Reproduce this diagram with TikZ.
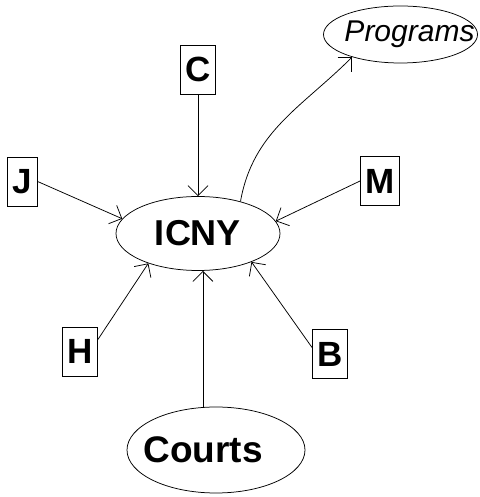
\documentclass[tikz,border=0pt]{standalone}
\usepackage{fontspec}
\setmainfont{Liberation Sans}
\usetikzlibrary{arrows.meta,shapes.geometric}
\tikzset{
  box/.style={draw, line width=0.75bp, rectangle, minimum height=49bp, inner xsep=5bp, inner ysep=0pt,
    font=\fontsize{35bp}{35bp}\selectfont\bfseries},
  bigell/.style={draw, line width=0.75bp, ellipse, inner sep=0pt,
    font=\fontsize{36bp}{36bp}\selectfont\bfseries},
  arr/.style={line width=0.75bp, -{Straight Barb[length=10bp,width=20bp,line width=0.75bp]}}
}
\begin{document}
\begin{tikzpicture}[x=1bp,y=1bp]
\useasboundingbox (0,0) rectangle (480,497);
\node[bigell, minimum width=164bp, minimum height=74bp] (ICNY) at (198,263.5) {ICNY};
\node[bigell, minimum width=178bp, minimum height=86bp, font=\fontsize{37bp}{37bp}\selectfont\bfseries]
  (Courts) at (216,47) {\makebox[0pt][c]{Courts\hspace*{26bp}}};
\node[draw, line width=0.75bp, ellipse, inner sep=0pt, minimum width=154bp, minimum height=57bp,
  font=\fontsize{30bp}{30bp}\selectfont\itshape] (Programs) at (400.5,462.5)
  {\makebox[0pt][c]{\hspace*{18bp}Programs}};
\node[box] (C) at (198,427.5) {C};
\node[box] (J) at (22.5,315.5) {J};
\node[box] (M) at (380,316) {M};
\node[box] (H) at (80,145.5) {H};
\node[box] (B) at (330,143) {B};
\draw[arr] (C.south) -- (ICNY.north);
\draw[arr] (J.east) -- (ICNY.169);
\draw[arr] (M.west) -- (ICNY.9);
\draw[arr] (H.34) -- (ICNY.211);
\draw[arr] (B.160) -- (ICNY.332);
\draw[arr] (Courts.107) -- (Courts.107 |- ICNY.south);
\draw[arr] (ICNY.37) to[out=80, in=225] (Programs.205);
\end{tikzpicture}
\end{document}
